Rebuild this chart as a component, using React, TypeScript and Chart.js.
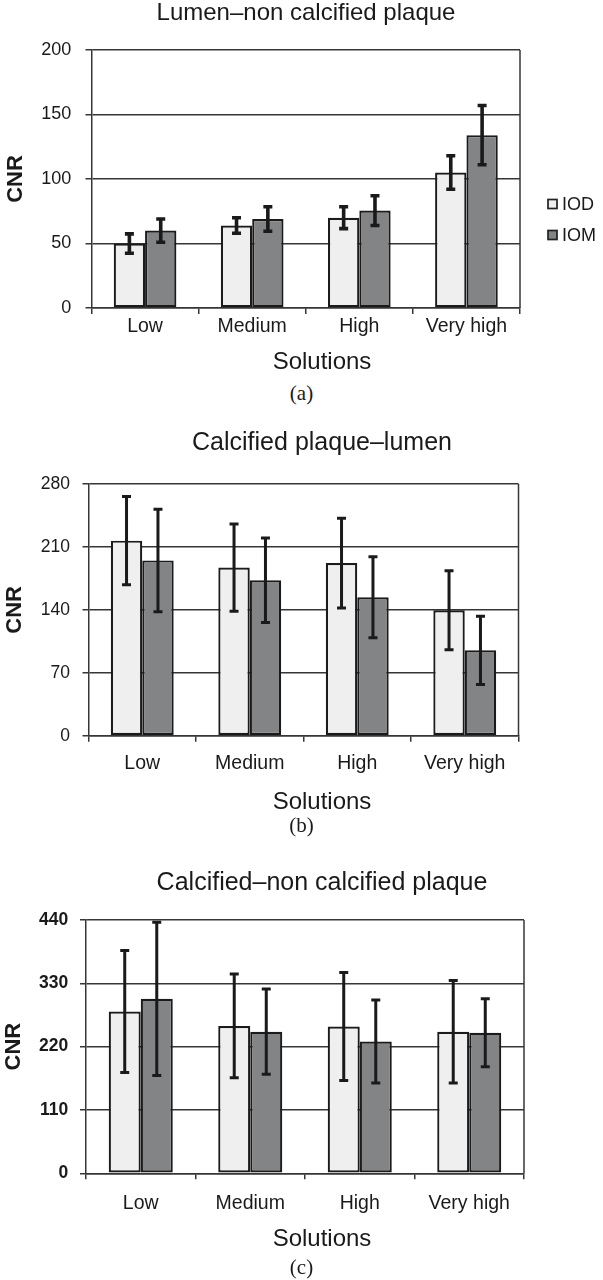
import React, { useEffect, useRef } from 'react';
import { Chart, registerables } from 'chart.js';

Chart.register(...registerables);

// ---------------- data ----------------
const categories = ['Low', 'Medium', 'High', 'Very high'];
const seriesNames = ['IOD', 'IOM'];

// (a) Lumen–non calcified plaque
const lumenNonCalcIOD = [50, 64, 70, 105];
const lumenNonCalcIODErr = [7.5, 6, 8.5, 13];
const lumenNonCalcIOM = [60, 69, 75.5, 134];
const lumenNonCalcIOMErr = [9, 9.5, 11.5, 23];
const lumenNonCalcTicks = [0, 50, 100, 150, 200];

// (b) Calcified plaque–lumen
const calcLumenIOD = [217, 187, 192, 139.5];
const calcLumenIODErr = [49, 48.5, 50, 44];
const calcLumenIOM = [195, 173, 154, 95];
const calcLumenIOMErr = [57, 47, 45, 38];
const calcLumenTicks = [0, 70, 140, 210, 280];

// (c) Calcified–non calcified plaque
const calcNonCalcIOD = [281, 256, 255, 246];
const calcNonCalcIODErr = [106, 90, 94, 89];
const calcNonCalcIOM = [303, 246, 229, 244];
const calcNonCalcIOMErr = [133, 74, 72, 59];
const calcNonCalcTicks = [0, 110, 220, 330, 440];

// ---------------- styling ----------------
const SANS = "'Liberation Sans', Arial, Helvetica, sans-serif";
const SERIF = "'Liberation Serif', 'Times New Roman', serif";
const TXT = '#1a1a1a';
const LINE = '#363636';
const EDGE = '#1b1b1b';
const IOD_FILL = '#eeefee';
const IOM_FILL = '#828486';
const PAGE_W = 603;

type Panel = {
  title: string;
  caption: string;
  iod: number[];
  iodErr: number[];
  iom: number[];
  iomErr: number[];
  ticks: number[];
  top: number;
  height: number;
  area: { left: number; right: number; top: number; bottom: number };
  titleX: number;
  titleY: number;
  titleSize: number;
  xLabelY: number;
  axisTitleX: number;
  axisTitleY: number;
  cnrX: number;
  tickRight: number;
  tickSize: number;
  tickBold: boolean;
  legendX: number;
  legendY: number[];
  captionY: number;
  errWidth: number;
};

const panels: Panel[] = [
  {
    title: 'Lumen\u2013non calcified plaque',
    caption: '(a)',
    iod: lumenNonCalcIOD,
    iodErr: lumenNonCalcIODErr,
    iom: lumenNonCalcIOM,
    iomErr: lumenNonCalcIOMErr,
    ticks: lumenNonCalcTicks,
    top: 0,
    height: 380,
    area: { left: 91.5, right: 520, top: 50, bottom: 308 },
    titleX: 306,
    titleY: 13,
    titleSize: 24,
    xLabelY: 327,
    axisTitleX: 322,
    axisTitleY: 362,
    cnrX: 16,
    tickRight: 71.3,
    tickSize: 18,
    tickBold: false,
    legendX: 548,
    legendY: [204, 235],
    captionY: 393,
    errWidth: 3.6,
  },
  {
    title: 'Calcified plaque\u2013lumen',
    caption: '(b)',
    iod: calcLumenIOD,
    iodErr: calcLumenIODErr,
    iom: calcLumenIOM,
    iomErr: calcLumenIOMErr,
    ticks: calcLumenTicks,
    top: 420,
    height: 400,
    area: { left: 88.5, right: 518.5, top: 484, bottom: 735.7 },
    titleX: 322,
    titleY: 443,
    titleSize: 25,
    xLabelY: 764,
    axisTitleX: 322,
    axisTitleY: 802,
    cnrX: 14.6,
    tickRight: 70,
    tickSize: 17.5,
    tickBold: false,
    legendX: 551.5,
    legendY: [636, 667],
    captionY: 825,
    errWidth: 3,
  },
  {
    title: 'Calcified\u2013non calcified plaque',
    caption: '(c)',
    iod: calcNonCalcIOD,
    iodErr: calcNonCalcIODErr,
    iom: calcNonCalcIOM,
    iomErr: calcNonCalcIOMErr,
    ticks: calcNonCalcTicks,
    top: 860,
    height: 400,
    area: { left: 86, right: 524, top: 920, bottom: 1173.3 },
    titleX: 322,
    titleY: 883,
    titleSize: 25,
    xLabelY: 1204,
    axisTitleX: 322,
    axisTitleY: 1239,
    cnrX: 13.7,
    tickRight: 68.3,
    tickSize: 17.5,
    tickBold: true,
    legendX: 551.5,
    legendY: [1072, 1102],
    captionY: 1267,
    errWidth: 3,
  },
];

// ---------------- plugins ----------------
const errorBarPlugin = {
  id: 'errorBars',
  afterDatasetsDraw(chart: any, _args: any, opts: any) {
    const ctx = chart.ctx;
    const y = chart.scales.y;
    ctx.save();
    ctx.strokeStyle = opts.color;
    ctx.lineWidth = opts.width;
    ctx.lineCap = 'butt';
    chart.data.datasets.forEach((ds: any, i: number) => {
      const meta = chart.getDatasetMeta(i);
      const errs: number[] = opts.errors[i];
      meta.data.forEach((bar: any, j: number) => {
        const v = ds.data[j] as number;
        const e = errs[j];
        const yt = y.getPixelForValue(v + e);
        const yb = y.getPixelForValue(v - e);
        const x = bar.x;
        ctx.beginPath();
        ctx.moveTo(x, yt);
        ctx.lineTo(x, yb);
        ctx.moveTo(x - opts.cap, yt);
        ctx.lineTo(x + opts.cap, yt);
        ctx.moveTo(x - opts.cap, yb);
        ctx.lineTo(x + opts.cap, yb);
        ctx.stroke();
      });
    });
    ctx.restore();
  },
};

const framePlugin = {
  id: 'plotFrame',
  beforeDatasetsDraw(chart: any, _args: any, opts: any) {
    const { right, top, bottom } = chart.chartArea;
    const ctx = chart.ctx;
    ctx.save();
    ctx.strokeStyle = opts.color;
    ctx.lineWidth = opts.width;
    ctx.beginPath();
    ctx.moveTo(right, top);
    ctx.lineTo(right, bottom);
    ctx.stroke();
    ctx.restore();
  },
};

const seriesKeyPlugin = {
  id: 'seriesKey',
  afterDraw(chart: any, _args: any, opts: any) {
    const ctx = chart.ctx;
    ctx.save();
    chart.data.datasets.forEach((ds: any, i: number) => {
      const cy = opts.ys[i];
      const x = opts.x;
      const s = opts.box;
      ctx.fillStyle = ds.backgroundColor;
      ctx.fillRect(x, cy - s / 2, s, s);
      ctx.strokeStyle = opts.edge;
      ctx.lineWidth = 1.7;
      ctx.strokeRect(x, cy - s / 2, s, s);
      ctx.fillStyle = opts.color;
      ctx.font = `normal ${opts.size}px ${SANS}`;
      ctx.textBaseline = 'middle';
      ctx.textAlign = 'left';
      ctx.fillText(ds.label, x + s + 5, cy + 1);
    });
    ctx.restore();
  },
};

const textShiftPlugin = {
  id: 'textShift',
  afterLayout(chart: any, _args: any, opts: any) {
    const tb = chart.titleBlock;
    if (tb) {
      const dx = opts.titleX - (tb.left + tb.right) / 2;
      tb.left += dx;
      tb.right += dx;
    }
    const sx = chart.scales.x;
    if (sx && !sx.__shiftWrapped) {
      const orig = sx.drawTitle;
      const target = opts.axisTitleX;
      sx.drawTitle = function (...a: any[]) {
        const dx = target - (this.left + this.right) / 2;
        this.ctx.save();
        this.ctx.translate(dx, 0);
        orig.apply(this, a);
        this.ctx.restore();
      };
      sx.__shiftWrapped = true;
    }
  },
};

// ---------------- chart ----------------
function PanelChart({ p }: { p: Panel }) {
  const ref = useRef<HTMLCanvasElement | null>(null);

  useEffect(() => {
    if (!ref.current) return;
    const H = p.height;
    const relTop = p.area.top - p.top;
    const relBottom = p.area.bottom - p.top;
    const titleRelY = p.titleY - p.top;
    const axisTitleRelY = p.axisTitleY - p.top;

    const chart = new Chart(ref.current, {
      type: 'bar',
      data: {
        labels: categories,
        datasets: [
          {
            label: seriesNames[0],
            data: p.iod,
            backgroundColor: IOD_FILL,
            borderColor: EDGE,
            borderWidth: 2.2,
            borderSkipped: false,
            categoryPercentage: 0.585,
            barPercentage: 1,
          },
          {
            label: seriesNames[1],
            data: p.iom,
            backgroundColor: IOM_FILL,
            borderColor: EDGE,
            borderWidth: 2.2,
            borderSkipped: false,
            categoryPercentage: 0.585,
            barPercentage: 1,
          },
        ],
      },
      options: {
        responsive: false,
        animation: false,
        devicePixelRatio: 1,
        layout: { padding: { left: 0, right: PAGE_W - p.area.right, top: 0, bottom: 0 } },
        plugins: {
          legend: { display: false },
          tooltip: { enabled: false },
          title: {
            display: true,
            text: p.title,
            color: TXT,
            font: { family: SANS, size: p.titleSize, weight: 'normal', lineHeight: 1 },
            padding: {
              top: titleRelY - p.titleSize / 2,
              bottom: relTop - titleRelY - p.titleSize / 2,
            },
          },
          errorBars: { errors: [p.iodErr, p.iomErr], color: '#1a1a1a', width: p.errWidth, cap: 4.5 },
          plotFrame: { color: LINE, width: 1.5 },
          seriesKey: { x: p.legendX, ys: p.legendY, box: 9, size: 18, color: TXT, edge: '#222' },
          textShift: { titleX: p.titleX, axisTitleX: p.axisTitleX },
        } as any,
        scales: {
          x: {
            offset: true,
            grid: {
              display: true,
              drawOnChartArea: false,
              drawTicks: true,
              tickLength: 6,
              color: LINE,
              lineWidth: 1.5,
              offset: true,
            },
            border: { display: true, color: LINE, width: 1.5 },
            ticks: {
              color: TXT,
              font: { family: SANS, size: 19.5, lineHeight: 1 },
              padding: p.xLabelY - p.area.bottom - 6 - 9.75,
              maxRotation: 0,
              autoSkip: false,
            },
            title: {
              display: true,
              text: 'Solutions',
              color: TXT,
              font: { family: SANS, size: 24, lineHeight: 1 },
              padding: { top: 0, bottom: H - axisTitleRelY - 12 },
            },
            afterFit: (s: any) => {
              s.height = H - relBottom;
            },
          },
          y: {
            min: p.ticks[0],
            max: p.ticks[p.ticks.length - 1],
            afterBuildTicks: (s: any) => {
              s.ticks = p.ticks.map((v) => ({ value: v }));
            },
            grid: { color: LINE, lineWidth: 1.5, tickLength: 6, drawTicks: true },
            border: { display: true, color: LINE, width: 1.5 },
            ticks: {
              color: TXT,
              font: {
                family: SANS,
                size: p.tickSize,
                weight: p.tickBold ? 'bold' : 'normal',
                lineHeight: 1,
              },
              padding: p.area.left - 6 - p.tickRight,
            },
            title: {
              display: true,
              text: 'CNR',
              color: TXT,
              font: { family: SANS, size: 22, weight: 'bold', lineHeight: 1 },
              padding: { top: p.cnrX - 11, bottom: 0 },
            },
            afterFit: (s: any) => {
              s.width = p.area.left;
            },
          },
        },
      } as any,
      plugins: [framePlugin, errorBarPlugin, seriesKeyPlugin, textShiftPlugin] as any,
    });
    return () => chart.destroy();
  }, [p]);

  return (
    <>
      <canvas
        ref={ref}
        width={PAGE_W}
        height={p.height}
        style={{ position: 'absolute', left: 0, top: p.top, width: PAGE_W, height: p.height }}
      />
      <div
        style={{
          position: 'absolute',
          left: 0,
          width: PAGE_W,
          top: p.captionY - 11,
          height: 22,
          lineHeight: '22px',
          textAlign: 'center',
          fontFamily: SERIF,
          fontSize: 21,
          color: TXT,
        }}
      >
        {p.caption}
      </div>
    </>
  );
}

export default function App() {
  return (
    <div
      style={{
        position: 'absolute',
        left: 0,
        top: 0,
        width: PAGE_W,
        height: 1280,
        background: '#ffffff',
        overflow: 'hidden',
      }}
    >
      {panels.map((p) => (
        <PanelChart key={p.caption} p={p} />
      ))}
    </div>
  );
}
